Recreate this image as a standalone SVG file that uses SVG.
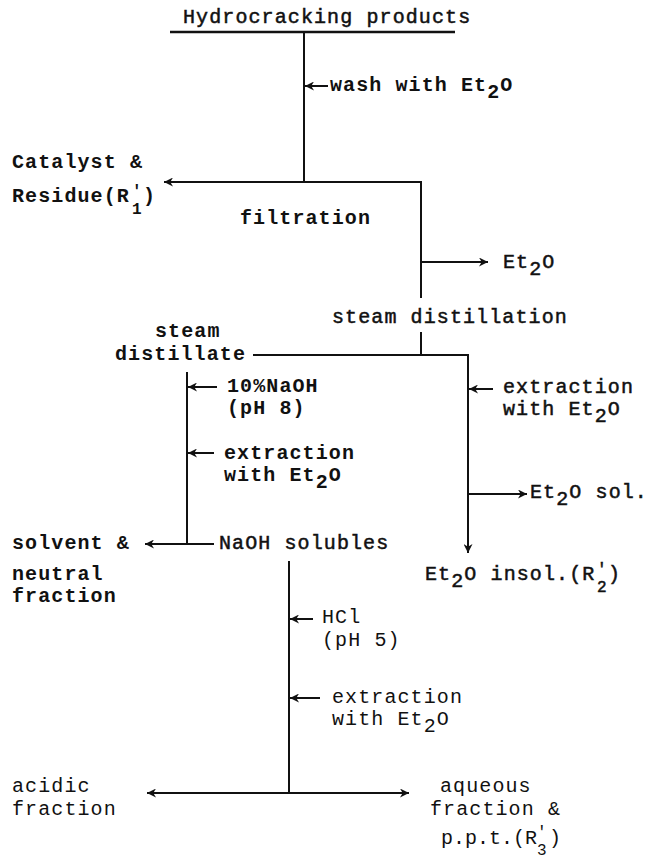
<svg xmlns="http://www.w3.org/2000/svg" width="648" height="861" viewBox="0 0 648 861">
<style>
.t{font-family:"Liberation Mono","Courier New",monospace;font-size:20px;letter-spacing:1.1px;fill:#111}
.b{font-weight:bold}
.m{stroke:#111;stroke-width:0.5px}
.s{font-size:16px;letter-spacing:0}
.ln{stroke:#111;stroke-width:2;fill:none}
</style>
<defs>
<marker id="ah" viewBox="0 0 10 10" refX="10" refY="5" markerWidth="10" markerHeight="9" markerUnits="userSpaceOnUse" orient="auto">
<path d="M0,0 L10,5 L0,10 L3,5 Z" fill="#111"/>
</marker>
<marker id="ahs" viewBox="0 0 10 10" refX="10" refY="5" markerWidth="10" markerHeight="9" markerUnits="userSpaceOnUse" orient="auto-start-reverse">
<path d="M0,0 L10,5 L0,10 L3,5 Z" fill="#111"/>
</marker>
</defs>
<g id="connectors">
<line class="ln" x1="170" y1="32" x2="455" y2="32" style="stroke-width:2.6"/>
<line class="ln" x1="304" y1="32" x2="304" y2="182"/>
<line class="ln" x1="328" y1="86" x2="305" y2="86" marker-end="url(#ah)"/>
<line class="ln" x1="421" y1="182" x2="164" y2="182" marker-end="url(#ah)"/>
<line class="ln" x1="421" y1="181" x2="421" y2="298"/>
<line class="ln" x1="421" y1="262" x2="488" y2="262" marker-end="url(#ah)"/>
<line class="ln" x1="421" y1="332" x2="421" y2="355"/>
<line class="ln" x1="253" y1="355" x2="469" y2="355"/>
<line class="ln" x1="468" y1="354" x2="468" y2="553" marker-end="url(#ah)"/>
<line class="ln" x1="493" y1="389" x2="469" y2="389" marker-end="url(#ah)"/>
<line class="ln" x1="468" y1="494" x2="527" y2="494" marker-end="url(#ah)"/>
<line class="ln" x1="187" y1="372" x2="187" y2="545"/>
<line class="ln" x1="217" y1="387" x2="188" y2="387" marker-end="url(#ah)"/>
<line class="ln" x1="214" y1="453" x2="188" y2="453" marker-end="url(#ah)"/>
<line class="ln" x1="214" y1="544" x2="145" y2="544" marker-end="url(#ah)"/>
<line class="ln" x1="289" y1="561" x2="289" y2="793"/>
<line class="ln" x1="313" y1="619" x2="290" y2="619" marker-end="url(#ah)"/>
<line class="ln" x1="320" y1="698" x2="290" y2="698" marker-end="url(#ah)"/>
<line class="ln" x1="147" y1="793" x2="409" y2="793" marker-start="url(#ahs)" marker-end="url(#ah)"/>
</g>
<g id="hydrocracking"><text class="t m" x="183" y="23">Hydrocracking products</text></g>
<g id="wash"><text class="t b" x="330" y="91">wash with Et<tspan dy="7">2</tspan><tspan dy="-7">O</tspan></text></g>
<g id="catalyst"><text class="t b" x="12" y="168">Catalyst &amp;</text><text class="t b" x="12" y="202">Residue(R<tspan class="s" x="132" y="196">'</tspan><tspan class="s" x="132" y="214">1</tspan><tspan x="143" y="202">)</tspan></text></g>
<g id="filtration"><text class="t b" x="240" y="224">filtration</text></g>
<g id="et2o-1"><text class="t m" x="503" y="268">Et<tspan dy="7">2</tspan><tspan dy="-7">O</tspan></text></g>
<g id="steam-distillation"><text class="t m" x="332" y="323">steam distillation</text></g>
<g id="steam-distillate"><text class="t b" x="155" y="337">steam</text><text class="t b" x="115" y="360">distillate</text></g>
<g id="naoh"><text class="t b" x="227" y="392">10%NaOH</text><text class="t b" x="227" y="414">(pH 8)</text></g>
<g id="extraction-left"><text class="t b" x="224" y="459">extraction</text><text class="t b" x="224" y="481">with Et<tspan dy="7">2</tspan><tspan dy="-7">O</tspan></text></g>
<g id="extraction-right"><text class="t m" x="503" y="393">extraction</text><text class="t m" x="503" y="415">with Et<tspan dy="7">2</tspan><tspan dy="-7">O</tspan></text></g>
<g id="et2o-sol"><text class="t m" x="530" y="498">Et<tspan dy="7">2</tspan><tspan dy="-7">O sol.</tspan></text></g>
<g id="solvent"><text class="t b" x="12" y="549">solvent &amp;</text><text class="t b" x="12" y="580">neutral</text><text class="t b" x="12" y="602">fraction</text></g>
<g id="naoh-solubles"><text class="t m" x="219" y="549">NaOH solubles</text></g>
<g id="et2o-insol"><text class="t m" x="425" y="580">Et<tspan dy="7">2</tspan><tspan dy="-7">O insol.(R</tspan><tspan class="s" x="597" y="574">'</tspan><tspan class="s" x="597" y="592">2</tspan><tspan x="608" y="580">)</tspan></text></g>
<g id="hcl"><text class="t" x="322" y="623">HCl</text><text class="t" x="322" y="646">(pH 5)</text></g>
<g id="extraction-bottom"><text class="t" x="332" y="703">extraction</text><text class="t" x="332" y="725">with Et<tspan dy="7">2</tspan><tspan dy="-7">O</tspan></text></g>
<g id="acidic"><text class="t" x="12" y="792">acidic</text><text class="t" x="12" y="815">fraction</text></g>
<g id="aqueous"><text class="t" x="440" y="792">aqueous</text><text class="t" x="430" y="815">fraction &amp;</text><text class="t" x="441" y="844" style="letter-spacing:0">p.p.t.(R<tspan class="s" x="537" y="837">'</tspan><tspan class="s" x="537" y="855">3</tspan><tspan x="549" y="844">)</tspan></text></g>
</svg>
